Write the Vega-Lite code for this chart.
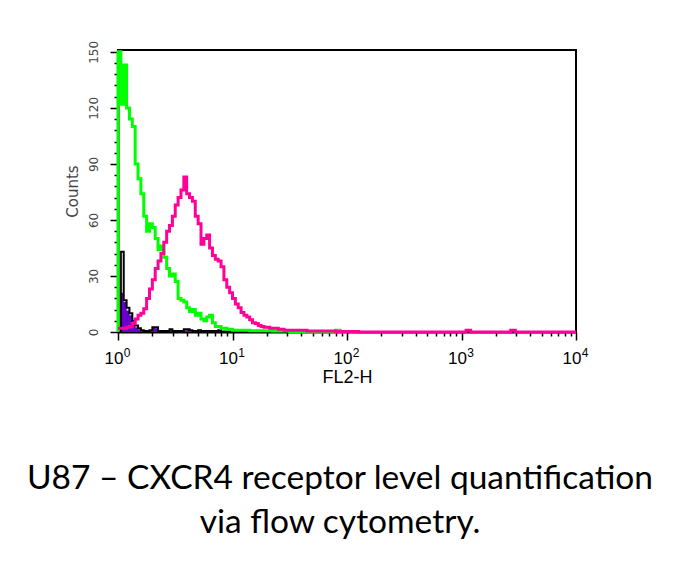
{
  "$schema": "https://vega.github.io/schema/vega-lite/v6.json",
  "width": 458,
  "height": 282,
  "autosize": {"type": "none"},
  "padding": {"left": 118, "top": 50, "right": 114, "bottom": 236},
  "title": {
    "text": ["U87 – CXCR4 receptor level quantification", "via flow cytometry."],
    "orient": "bottom",
    "anchor": "middle",
    "offset": 77,
    "dx": -7,
    "font": "Lato",
    "fontSize": 33.5,
    "fontWeight": "normal",
    "color": "black",
    "lineHeight": 44
  },
  "data": {
    "values": [
      {"series": "purple", "log_fl2h": 0, "count": 0},
      {"series": "purple", "log_fl2h": 0.025, "count": 21},
      {"series": "purple", "log_fl2h": 0.05, "count": 16},
      {"series": "purple", "log_fl2h": 0.075, "count": 11.5},
      {"series": "purple", "log_fl2h": 0.1, "count": 9},
      {"series": "purple", "log_fl2h": 0.125, "count": 4.5},
      {"series": "purple", "log_fl2h": 0.15, "count": 2.5},
      {"series": "purple", "log_fl2h": 0.175, "count": 1.5},
      {"series": "purple", "log_fl2h": 0.2, "count": 0.5},
      {"series": "purple", "log_fl2h": 0.225, "count": 0},
      {"series": "purple", "log_fl2h": 0.25, "count": 0.5},
      {"series": "purple", "log_fl2h": 0.275, "count": 1},
      {"series": "purple", "log_fl2h": 0.3, "count": 2.5},
      {"series": "purple", "log_fl2h": 0.325, "count": 2},
      {"series": "purple", "log_fl2h": 0.35, "count": 0},
      {"series": "purple", "log_fl2h": 0.375, "count": 0.3},
      {"series": "purple", "log_fl2h": 0.4, "count": 0},
      {"series": "purple", "log_fl2h": 0.425, "count": 0.5},
      {"series": "purple", "log_fl2h": 0.45, "count": 1},
      {"series": "purple", "log_fl2h": 0.475, "count": 0},
      {"series": "purple", "log_fl2h": 0.575, "count": 1},
      {"series": "purple", "log_fl2h": 0.6, "count": 1.5},
      {"series": "purple", "log_fl2h": 0.625, "count": 0.5},
      {"series": "purple", "log_fl2h": 0.65, "count": 0},
      {"series": "purple", "log_fl2h": 0.7, "count": 1},
      {"series": "purple", "log_fl2h": 0.725, "count": 0},
      {"series": "purple", "log_fl2h": 0.875, "count": 0.7},
      {"series": "purple", "log_fl2h": 0.9, "count": 0},
      {"series": "purple", "log_fl2h": 1.0, "count": 0},

      {"series": "black", "log_fl2h": 0, "count": 0},
      {"series": "black", "log_fl2h": 0.025, "count": 43},
      {"series": "black", "log_fl2h": 0.05, "count": 17},
      {"series": "black", "log_fl2h": 0.075, "count": 13},
      {"series": "black", "log_fl2h": 0.1, "count": 10},
      {"series": "black", "log_fl2h": 0.125, "count": 6},
      {"series": "black", "log_fl2h": 0.15, "count": 3.5},
      {"series": "black", "log_fl2h": 0.175, "count": 2},
      {"series": "black", "log_fl2h": 0.2, "count": 1},
      {"series": "black", "log_fl2h": 0.225, "count": 0.5},
      {"series": "black", "log_fl2h": 0.275, "count": 1},
      {"series": "black", "log_fl2h": 0.3, "count": 2.5},
      {"series": "black", "log_fl2h": 0.325, "count": 2.5},
      {"series": "black", "log_fl2h": 0.35, "count": 0.5},
      {"series": "black", "log_fl2h": 0.45, "count": 1.5},
      {"series": "black", "log_fl2h": 0.475, "count": 0.5},
      {"series": "black", "log_fl2h": 0.575, "count": 1.5},
      {"series": "black", "log_fl2h": 0.625, "count": 1},
      {"series": "black", "log_fl2h": 0.65, "count": 0.5},
      {"series": "black", "log_fl2h": 0.7, "count": 1},
      {"series": "black", "log_fl2h": 0.725, "count": 0.5},
      {"series": "black", "log_fl2h": 0.875, "count": 1},
      {"series": "black", "log_fl2h": 0.9, "count": 0.3},
      {"series": "black", "log_fl2h": 1.0, "count": 0},

      {"series": "green", "idx": 0, "log_fl2h": 0, "count": 0},
      {"series": "green", "idx": 1, "log_fl2h": 0, "count": 150},
      {"series": "green", "idx": 2, "log_fl2h": 0.025, "count": 122},
      {"series": "green", "idx": 3, "log_fl2h": 0.05, "count": 143},
      {"series": "green", "idx": 4, "log_fl2h": 0.075, "count": 120},
      {"series": "green", "idx": 5, "log_fl2h": 0.1, "count": 114},
      {"series": "green", "idx": 6, "log_fl2h": 0.125, "count": 110},
      {"series": "green", "idx": 7, "log_fl2h": 0.15, "count": 90},
      {"series": "green", "idx": 8, "log_fl2h": 0.175, "count": 82},
      {"series": "green", "idx": 9, "log_fl2h": 0.2, "count": 74},
      {"series": "green", "idx": 10, "log_fl2h": 0.225, "count": 62},
      {"series": "green", "idx": 11, "log_fl2h": 0.25, "count": 54},
      {"series": "green", "idx": 12, "log_fl2h": 0.275, "count": 58},
      {"series": "green", "idx": 13, "log_fl2h": 0.3, "count": 56},
      {"series": "green", "idx": 14, "log_fl2h": 0.325, "count": 50},
      {"series": "green", "idx": 15, "log_fl2h": 0.35, "count": 44},
      {"series": "green", "idx": 16, "log_fl2h": 0.375, "count": 46},
      {"series": "green", "idx": 17, "log_fl2h": 0.4, "count": 40},
      {"series": "green", "idx": 18, "log_fl2h": 0.425, "count": 34},
      {"series": "green", "idx": 19, "log_fl2h": 0.45, "count": 30},
      {"series": "green", "idx": 20, "log_fl2h": 0.475, "count": 31},
      {"series": "green", "idx": 21, "log_fl2h": 0.5, "count": 27},
      {"series": "green", "idx": 22, "log_fl2h": 0.525, "count": 18},
      {"series": "green", "idx": 23, "log_fl2h": 0.55, "count": 17},
      {"series": "green", "idx": 24, "log_fl2h": 0.575, "count": 16},
      {"series": "green", "idx": 25, "log_fl2h": 0.6, "count": 13},
      {"series": "green", "idx": 26, "log_fl2h": 0.625, "count": 11},
      {"series": "green", "idx": 27, "log_fl2h": 0.65, "count": 12},
      {"series": "green", "idx": 28, "log_fl2h": 0.675, "count": 9},
      {"series": "green", "idx": 29, "log_fl2h": 0.7, "count": 10},
      {"series": "green", "idx": 30, "log_fl2h": 0.725, "count": 7},
      {"series": "green", "idx": 31, "log_fl2h": 0.75, "count": 6},
      {"series": "green", "idx": 32, "log_fl2h": 0.775, "count": 8},
      {"series": "green", "idx": 33, "log_fl2h": 0.8, "count": 9},
      {"series": "green", "idx": 34, "log_fl2h": 0.825, "count": 5},
      {"series": "green", "idx": 35, "log_fl2h": 0.85, "count": 3},
      {"series": "green", "idx": 36, "log_fl2h": 0.875, "count": 3},
      {"series": "green", "idx": 37, "log_fl2h": 0.9, "count": 2},
      {"series": "green", "idx": 38, "log_fl2h": 0.925, "count": 2},
      {"series": "green", "idx": 39, "log_fl2h": 0.95, "count": 1.5},
      {"series": "green", "idx": 40, "log_fl2h": 1.0, "count": 1},
      {"series": "green", "idx": 41, "log_fl2h": 1.15, "count": 0.7},
      {"series": "green", "idx": 42, "log_fl2h": 1.35, "count": 0.5},
      {"series": "green", "idx": 43, "log_fl2h": 1.5, "count": 0},
      {"series": "green", "idx": 44, "log_fl2h": 1.9, "count": 1},
      {"series": "green", "idx": 45, "log_fl2h": 1.94, "count": 0},
      {"series": "green", "idx": 46, "log_fl2h": 2.0, "count": 0},

      {"series": "magenta", "log_fl2h": 0, "count": 2},
      {"series": "magenta", "log_fl2h": 0.075, "count": 2.5},
      {"series": "magenta", "log_fl2h": 0.1, "count": 3},
      {"series": "magenta", "log_fl2h": 0.125, "count": 4.5},
      {"series": "magenta", "log_fl2h": 0.15, "count": 7},
      {"series": "magenta", "log_fl2h": 0.175, "count": 9},
      {"series": "magenta", "log_fl2h": 0.2, "count": 10},
      {"series": "magenta", "log_fl2h": 0.225, "count": 12.5},
      {"series": "magenta", "log_fl2h": 0.25, "count": 18},
      {"series": "magenta", "log_fl2h": 0.275, "count": 23},
      {"series": "magenta", "log_fl2h": 0.3, "count": 28},
      {"series": "magenta", "log_fl2h": 0.325, "count": 34},
      {"series": "magenta", "log_fl2h": 0.35, "count": 38},
      {"series": "magenta", "log_fl2h": 0.375, "count": 42},
      {"series": "magenta", "log_fl2h": 0.4, "count": 48},
      {"series": "magenta", "log_fl2h": 0.425, "count": 54},
      {"series": "magenta", "log_fl2h": 0.45, "count": 57},
      {"series": "magenta", "log_fl2h": 0.475, "count": 62},
      {"series": "magenta", "log_fl2h": 0.5, "count": 68},
      {"series": "magenta", "log_fl2h": 0.525, "count": 72},
      {"series": "magenta", "log_fl2h": 0.55, "count": 76},
      {"series": "magenta", "log_fl2h": 0.575, "count": 83},
      {"series": "magenta", "log_fl2h": 0.6, "count": 74},
      {"series": "magenta", "log_fl2h": 0.625, "count": 72},
      {"series": "magenta", "log_fl2h": 0.65, "count": 70},
      {"series": "magenta", "log_fl2h": 0.675, "count": 62},
      {"series": "magenta", "log_fl2h": 0.7, "count": 58},
      {"series": "magenta", "log_fl2h": 0.725, "count": 47},
      {"series": "magenta", "log_fl2h": 0.75, "count": 50},
      {"series": "magenta", "log_fl2h": 0.775, "count": 52},
      {"series": "magenta", "log_fl2h": 0.8, "count": 45},
      {"series": "magenta", "log_fl2h": 0.825, "count": 41},
      {"series": "magenta", "log_fl2h": 0.85, "count": 39},
      {"series": "magenta", "log_fl2h": 0.875, "count": 38},
      {"series": "magenta", "log_fl2h": 0.9, "count": 35},
      {"series": "magenta", "log_fl2h": 0.925, "count": 28},
      {"series": "magenta", "log_fl2h": 0.95, "count": 24},
      {"series": "magenta", "log_fl2h": 0.975, "count": 21},
      {"series": "magenta", "log_fl2h": 1.0, "count": 18},
      {"series": "magenta", "log_fl2h": 1.025, "count": 15},
      {"series": "magenta", "log_fl2h": 1.05, "count": 13},
      {"series": "magenta", "log_fl2h": 1.075, "count": 10.5},
      {"series": "magenta", "log_fl2h": 1.1, "count": 9},
      {"series": "magenta", "log_fl2h": 1.125, "count": 8},
      {"series": "magenta", "log_fl2h": 1.15, "count": 6.5},
      {"series": "magenta", "log_fl2h": 1.175, "count": 5},
      {"series": "magenta", "log_fl2h": 1.2, "count": 4.5},
      {"series": "magenta", "log_fl2h": 1.225, "count": 3.5},
      {"series": "magenta", "log_fl2h": 1.25, "count": 3},
      {"series": "magenta", "log_fl2h": 1.275, "count": 2.5},
      {"series": "magenta", "log_fl2h": 1.325, "count": 2},
      {"series": "magenta", "log_fl2h": 1.4, "count": 1.5},
      {"series": "magenta", "log_fl2h": 1.45, "count": 1},
      {"series": "magenta", "log_fl2h": 1.65, "count": 0.5},
      {"series": "magenta", "log_fl2h": 1.9, "count": 0.3},
      {"series": "magenta", "log_fl2h": 2.1, "count": 0},
      {"series": "magenta", "log_fl2h": 3.04, "count": 1},
      {"series": "magenta", "log_fl2h": 3.08, "count": 0},
      {"series": "magenta", "log_fl2h": 3.43, "count": 1},
      {"series": "magenta", "log_fl2h": 3.47, "count": 0},
      {"series": "magenta", "log_fl2h": 4.0, "count": 0}
    ]
  },
  "layer": [
    {
      "transform": [{"filter": "datum.series == 'purple'"}],
      "mark": {"type": "area", "interpolate": "step-after", "color": "#6600cc"},
      "encoding": {
        "x": {
          "field": "log_fl2h", "type": "quantitative",
          "scale": {"domain": [0, 4], "nice": false},
          "axis": {
            "orient": "bottom",
            "values": [0, 1, 2, 3, 4],
            "labelExpr": "'10'",
            "labelFont": "Liberation Sans", "labelFontSize": 17, "labelColor": "black",
            "labelPadding": 10, "labelFlush": false, "labelOffset": -4.5,
            "tickSize": 8, "tickWidth": 1.5, "tickColor": "black",
            "domainWidth": 2, "domainColor": "black",
            "title": "FL2-H", "titleFont": "Liberation Sans", "titleFontSize": 18,
            "titleFontWeight": "normal", "titleColor": "black", "titlePadding": 2
          }
        },
        "y": {
          "field": "count", "type": "quantitative", "stack": null,
          "scale": {"domain": [0, 151], "nice": false},
          "axis": {
            "orient": "left",
            "values": [0, 30, 60, 90, 120, 150],
            "labelAngle": -90, "labelAlign": "center", "labelBaseline": "bottom",
            "labelFont": "DejaVu Sans", "labelFontSize": 12, "labelColor": "#444",
            "labelPadding": 10,
            "tickSize": 8, "tickWidth": 1.5, "tickColor": "black",
            "domainWidth": 2, "domainColor": "black",
            "title": "Counts", "titleFont": "DejaVu Sans", "titleFontSize": 15,
            "titleFontWeight": "normal", "titleColor": "#444", "titlePadding": 7
          }
        }
      }
    },
    {
      "transform": [{"filter": "datum.series == 'black'"}],
      "mark": {"type": "line", "interpolate": "step-after", "color": "black", "strokeWidth": 2},
      "encoding": {
        "x": {
          "field": "log_fl2h", "type": "quantitative",
          "scale": {"domain": [0, 4], "nice": false},
          "axis": {
            "orient": "bottom",
            "values": [0.30103, 0.47712, 0.60206, 0.69897, 0.77815, 0.8451, 0.90309, 0.95424,
                       1.30103, 1.47712, 1.60206, 1.69897, 1.77815, 1.8451, 1.90309, 1.95424,
                       2.30103, 2.47712, 2.60206, 2.69897, 2.77815, 2.8451, 2.90309, 2.95424,
                       3.30103, 3.47712, 3.60206, 3.69897, 3.77815, 3.8451, 3.90309, 3.95424],
            "labels": false, "domain": false, "title": null,
            "tickSize": 4, "tickWidth": 1.5, "tickColor": "black"
          }
        },
        "y": {
          "field": "count", "type": "quantitative",
          "scale": {"domain": [0, 151], "nice": false},
          "axis": {
            "orient": "left",
            "values": [6, 12, 18, 24, 36, 42, 48, 54, 66, 72, 78, 84, 96, 102, 108, 114, 126, 132, 138, 144],
            "labels": false, "domain": false, "title": null,
            "tickSize": 4, "tickWidth": 1.5, "tickColor": "black"
          }
        }
      }
    },
    {
      "transform": [{"filter": "datum.series == 'green'"}],
      "mark": {"type": "line", "interpolate": "step-after", "color": "#00ff00", "strokeWidth": 3},
      "encoding": {
        "x": {
          "field": "log_fl2h", "type": "quantitative",
          "scale": {"domain": [0, 4], "nice": false},
          "axis": {
            "orient": "bottom",
            "values": [0, 1, 2, 3, 4],
            "labelExpr": "format(datum.value, 'd')",
            "labelFont": "Liberation Sans", "labelFontSize": 12, "labelColor": "black",
            "labelPadding": 15, "labelFlush": false, "labelOffset": 8.5,
            "ticks": false, "tickSize": 0, "domain": false, "title": null
          }
        },
        "y": {"field": "count", "type": "quantitative", "scale": {"domain": [0, 151], "nice": false}, "axis": null},
        "order": {"field": "idx"}
      }
    },
    {
      "transform": [{"filter": "datum.series == 'magenta'"}],
      "mark": {"type": "line", "interpolate": "step-after", "color": "#ff0099", "strokeWidth": 3},
      "encoding": {
        "x": {"field": "log_fl2h", "type": "quantitative", "scale": {"domain": [0, 4], "nice": false}, "axis": null},
        "y": {"field": "count", "type": "quantitative", "scale": {"domain": [0, 151], "nice": false}, "axis": null}
      }
    }
  ],
  "resolve": {"axis": {"x": "independent", "y": "independent"}},
  "config": {
    "view": {"stroke": "black", "strokeWidth": 2},
    "axis": {"grid": false}
  }
}
